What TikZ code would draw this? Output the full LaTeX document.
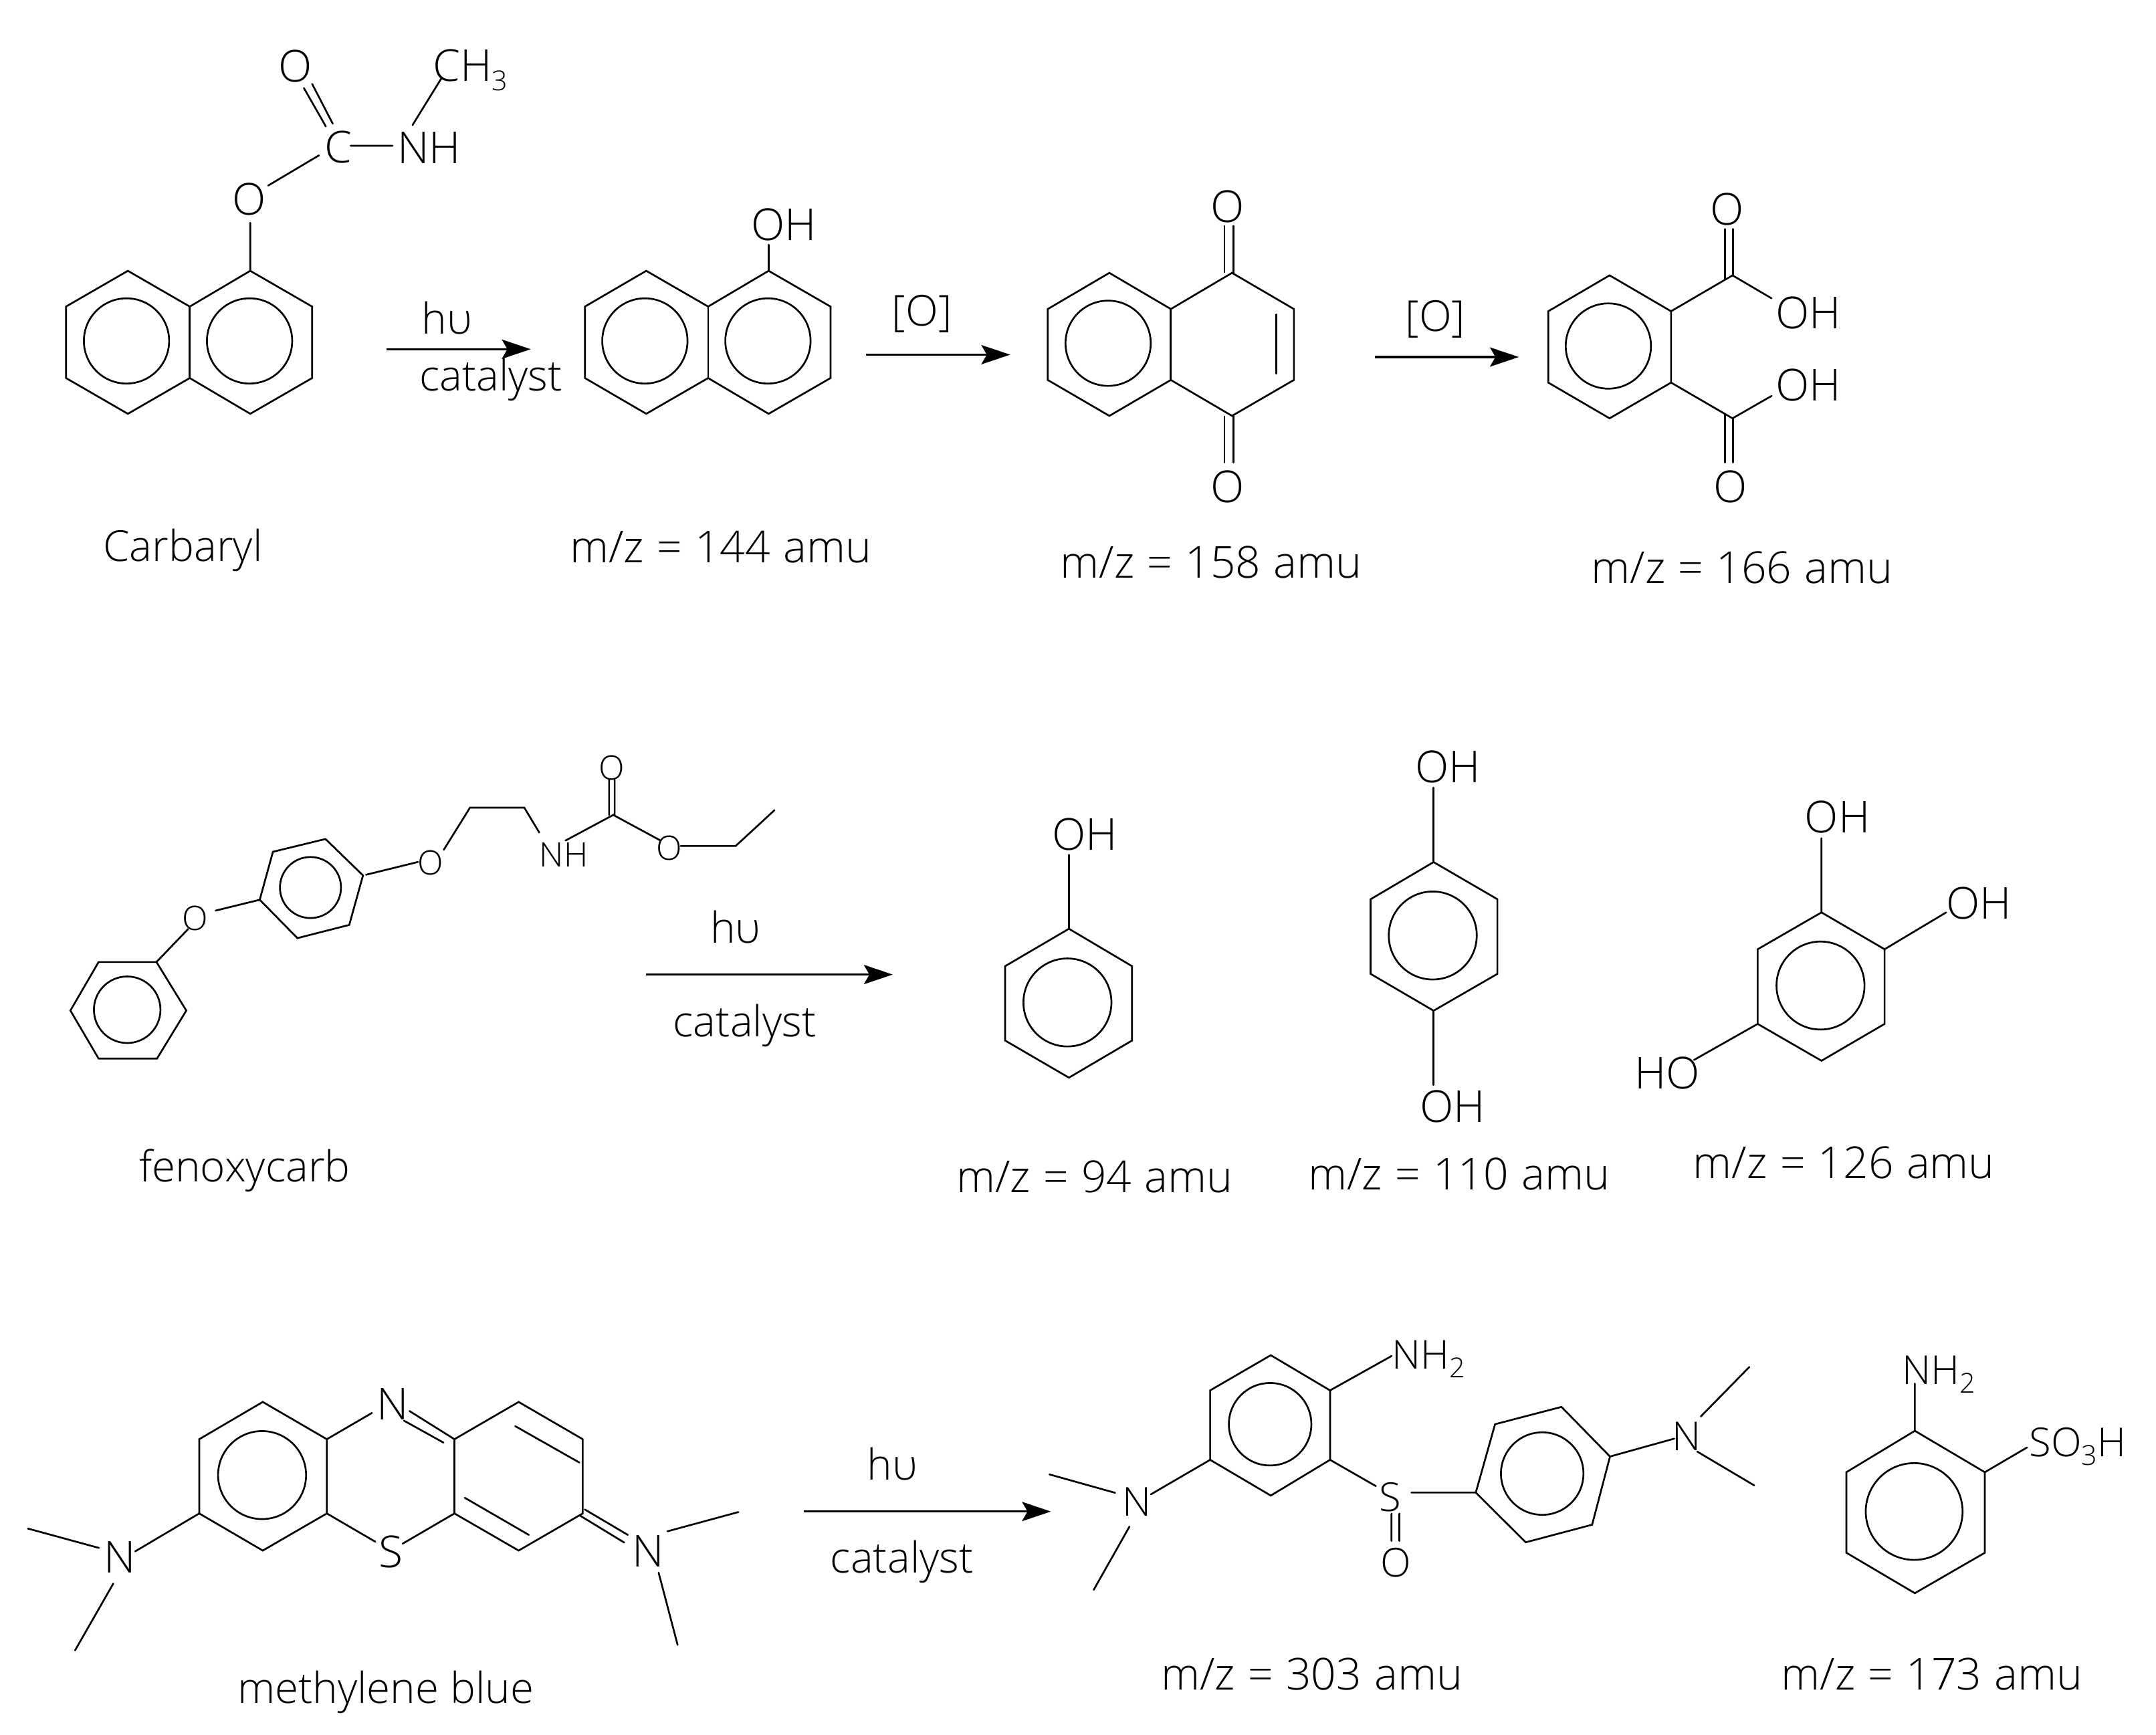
\documentclass[tikz,border=0pt]{standalone}
\usepackage{fontspec}
\setmainfont{Open Sans Light}
\usetikzlibrary{arrows.meta}
\newcommand{\chemsub}[1]{\raisebox{-.22em}{\fontsize{20}{22}\selectfont #1}}
\newcommand{\mzlabel}[1]{m/z\hspace{9.4pt}=\hspace{9.4pt}#1\hspace{9.4pt}amu}
\tikzset{
  bond/.style={line width=1.3pt,line cap=round,line join=miter},
  arrowline/.style={line width=1.5pt,-{Stealth[length=21pt,width=14pt,inset=4pt]}},
  inset/.style={inner sep=0pt,outer sep=0pt,text depth=0pt,anchor=center,align=center},
  atom/.style={inset,text height=22.8pt,font=\fontsize{32}{36}\selectfont},
  atomsm/.style={inset,text height=17.5pt,font=\fontsize{24.5}{28}\selectfont},
  atommd/.style={inset,text height=20.7pt,font=\fontsize{29}{32}\selectfont},
  lbl/.style={inset,text height=22.8pt,font=\fontsize{32}{36}\selectfont},
  word/.style={inset,text height=22.2pt,font=\fontsize{31}{36}\selectfont},
}
\begin{document}
\begin{tikzpicture}[x=1pt,y=-1pt]
\useasboundingbox (0,0) rectangle (1568,1262);
\fill[white] (0,0) rectangle (1568,1262);

% ---------- Row 1: carbaryl
\draw[bond] (48,223)--(93,197)--(138,223)--(182,197)--(227,223)--(227,275)--(182,301)--(138,275)--(93,301)--(48,275)--cycle;
\draw[bond] (138,223)--(138,275);
\draw[bond] (92,248) circle (31) (181.5,248) circle (31);
\draw[bond] (182,197)--(182,162) (195,135)--(232,113) (221,64)--(237,92) (227,61)--(242,90) (255,106)--(285.5,106) (300,91)--(321,57);
\node[atom] (cbO) at (181,145) {O};
\node[atom] (cbC) at (246,107) {C};
\node[atom] (cbOd) at (215,48) {O};
\node[atom] (cbNH) at (312,107.5) {NH};
\node[atom] (cbCH) at (342,47.5) {CH\chemsub{3}};
\node[word] (cbName) at (133,397) {Carbaryl};
\coordinate (a1s) at (281,254); \coordinate (a1e) at (386,254);
\draw[arrowline] (a1s)--(a1e);
\node[word] (a1t) at (325,232) {hυ};
\node[word] (a1b) at (357,273) {catalyst};

% naphthol
\draw[bond] (425.4,223)--(470,197)--(515,223)--(559,197)--(604,223)--(604,275)--(559,301)--(515,275)--(470,301)--(425.4,275)--cycle;
\draw[bond] (515,223)--(515,275);
\draw[bond] (469,248) circle (31) (558.5,248) circle (31);
\draw[bond] (559,197)--(559,178);
\node[atom] (npOH) at (570,163.5) {OH};
\node[lbl] (np) at (524,398) {\mzlabel{144}};
\coordinate (a2s) at (630,258); \coordinate (a2e) at (734.7,258);
\draw[arrowline] (a2s)--(a2e);
\node[word] (a2t) at (670.5,226) {[O]};

% naphthoquinone
\draw[bond] (762,224.8)--(806.8,198.5)--(851.5,224.8)--(896,198.5)--(941,224.8)--(941,276.4)--(896,302.5)--(851.5,276.4)--(806.8,302.5)--(762,276.4)--cycle;
\draw[bond] (851.5,224.8)--(851.5,276.4) (928.2,228.7)--(928.2,271.8);
\draw[bond] (805.9,249.7) circle (31);
\draw[bond] (890.5,164.3)--(890.5,198) (897,164.3)--(897,198.5) (890.5,303)--(890.5,336.4) (897,302.5)--(897,336.4);
\node[atom] (nqO1) at (892.9,150.3) {O};
\node[atom] (nqO2) at (892.9,353.9) {O};
\node[lbl] (nq) at (880.8,409) {\mzlabel{158}};
\coordinate (a3s) at (999.9,259.7); \coordinate (a3e) at (1104.6,259.7);
\draw[arrowline] (a3s)--(a3e);
\node[word] (a3t) at (1044,229.9) {[O]};

% phthalic acid
\draw[bond] (1126,226.4)--(1170.6,200.3)--(1215.3,226.4)--(1215.3,278.3)--(1170.6,304.3)--(1126,278.3)--cycle;
\draw[bond] (1169.7,251.7) circle (31);
\draw[bond] (1215.3,226.4)--(1260,200.3)--(1288.4,217);
\draw[bond] (1215.3,278.3)--(1260,304.3)--(1288.4,288);
\draw[bond] (1254.4,166.6)--(1254.4,203) (1260.5,166.6)--(1260.5,200.3) (1254.4,301)--(1254.4,336.4) (1260.5,304.3)--(1260.5,336.4);
\node[atom] (paO1) at (1256,152.2) {O};
\node[atom] (paO2) at (1258.6,353.9) {O};
\node[atom] (paH1) at (1315,227.5) {OH};
\node[atom] (paH2) at (1315,280) {OH};
\node[lbl] (pa) at (1267,413) {\mzlabel{166}};

% ---------- Row 2: fenoxycarb
\draw[bond] (71.7,699.8)--(113.8,699.8)--(135.5,735.1)--(114.2,770)--(71.7,770)--(51.2,735.1)--cycle;
\draw[bond] (92.5,734.5) circle (24.2);
\draw[bond] (113.8,699.8)--(136.8,675.8) (156.8,662.4)--(188.9,654.5);
\draw[bond] (188.9,654.5)--(198.5,619.6)--(236.7,610.3)--(264,636.8)--(254,672.8)--(216.3,682.4)--cycle;
\draw[bond] (225.8,645.6) circle (22.2);
\draw[bond] (266.2,636.3)--(304,627) (322.7,618.2)--(341.8,587.5)--(381.3,587.5)--(392.2,605.6) (411.3,611.4)--(446,592.8)--(480,611.2) (443,592.8)--(443,567.2) (447,592.8)--(447,567.2) (495,615.4)--(535,615.4)--(563.3,589.3);
\node[atomsm] (fO1) at (142,668) {O};
\node[atomsm] (fO2) at (313,627.7) {O};
\node[atomsm] (fNH) at (410,621.9) {NH};
\node[atomsm] (fO3) at (444.7,558.4) {O};
\node[atomsm] (fO4) at (486.8,617) {O};
\node[word] (fName) at (178,848.4) {fenoxycarb};
\coordinate (a4s) at (470,708.9); \coordinate (a4e) at (649.3,708.9);
\draw[arrowline] (a4s)--(a4e);
\node[word] (a4t) at (535,675) {hυ};
\node[word] (a4b) at (541.6,743) {catalyst};

% phenol
\draw[bond] (777.4,675.6)--(823.3,702.8)--(823.3,756.9)--(777.4,783.9)--(731,756.9)--(731,702.8)--cycle;
\draw[bond] (776.3,729.2) circle (32);
\draw[bond] (777.4,675.6)--(777.4,621.8);
\node[atom] (phOH) at (789,606.8) {OH};
\node[lbl] (ph) at (796,856) {\mzlabel{94}};

% hydroquinone
\draw[bond] (1042.6,627.1)--(1089,654.1)--(1089,708.4)--(1042.6,735.2)--(996.8,708.4)--(996.8,654.1)--cycle;
\draw[bond] (1042,680.5) circle (32);
\draw[bond] (1042.6,627.1)--(1042.6,572.9) (1042.6,735.2)--(1042.6,789.2);
\node[atom] (hqO1) at (1053,558) {OH};
\node[atom] (hqO2) at (1056.3,804.9) {OH};
\node[lbl] (hq) at (1061,854) {\mzlabel{110}};

% hydroxyquinol
\draw[bond] (1324.7,663.7)--(1370.6,690.5)--(1370.6,744.8)--(1324.7,771.6)--(1278.3,744.8)--(1278.3,690.5)--cycle;
\draw[bond] (1324,716.9) circle (32);
\draw[bond] (1324.7,663.7)--(1324.7,609.7) (1370.6,690.5)--(1415.4,663.7) (1278.3,744.8)--(1232,771);
\node[atom] (hxO1) at (1336.3,594.5) {OH};
\node[atom] (hxO2) at (1439.2,657) {OH};
\node[atom] (hxO3) at (1212.4,780.5) {HO};
\node[lbl] (hx) at (1341,846) {\mzlabel{126}};

% ---------- Row 3: methylene blue
\draw[bond] (191.1,1019.8)--(237.7,1046.9)--(237.7,1100.9)--(191.1,1127.9)--(144.9,1100.9)--(144.9,1046.9)--cycle;
\draw[bond] (190.6,1073) circle (32);
\draw[bond] (330.5,1046.9)--(377.2,1019.8)--(423.8,1046.9)--(423.8,1100.9)--(377.2,1127.9)--(330.5,1100.9)--cycle;
\draw[bond] (374.7,1037.4)--(421.4,1063.9) (338,1089.5)--(384.6,1116.5);
\draw[bond] (237.7,1046.9)--(270.5,1027.8) (293.8,1033.4)--(322.6,1049.4) (297.8,1026.4)--(330.5,1046.9);
\draw[bond] (237.7,1100.9)--(273,1121.5) (330.5,1100.9)--(292.8,1122.9);
\draw[bond] (144.9,1100.9)--(98.3,1128.5) (72,1126)--(20.3,1111.9) (82.4,1151.9)--(54.6,1200.5);
\draw[bond] (425.3,1098)--(456.6,1116.5) (421.9,1102.5)--(454,1122.1) (485.4,1113.9)--(537,1099.9) (479,1144)--(492.8,1196.5);
\node[atom] (mbN1) at (285.4,1021.4) {N};
\node[atom] (mbS) at (284.4,1128.9) {S};
\node[atom] (mbN2) at (87.3,1132.5) {N};
\node[atom] (mbN3) at (471.5,1128.5) {N};
\node[word] (mbName) at (280.4,1228) {methylene blue};
\coordinate (a5s) at (584.6,1099.5); \coordinate (a5e) at (764.3,1099.5);
\draw[arrowline] (a5s)--(a5e);
\node[word] (a5t) at (649,1065.5) {hυ};
\node[word] (a5b) at (656,1133) {catalyst};

% sulfoxide product
\draw[bond] (924.2,985.8)--(967.3,1011.4)--(967.3,1061.9)--(924.2,1087.9)--(880.1,1061.9)--(880.1,1011.4)--cycle;
\draw[bond] (923.7,1036) circle (30);
\draw[bond] (967.3,1011.4)--(1012,986.4) (880.1,1061.9)--(837,1087) (811,1085.9)--(763.2,1072.5) (821.4,1110.5)--(795.4,1156.5);
\draw[bond] (967.3,1061.9)--(1000.6,1081) (1012,1101)--(1012,1120.9) (1017.7,1101)--(1017.7,1120.9) (1026.5,1085.7)--(1073.3,1085.7);
\draw[bond] (1073.3,1085.7)--(1087.3,1036)--(1135.6,1023.4)--(1170.9,1059.5)--(1157.9,1109.1)--(1109.6,1121.9)--cycle;
\draw[bond] (1121.6,1071.9) circle (30);
\draw[bond] (1170.9,1059.5)--(1217.6,1046.5) (1236.9,1030.4)--(1272.2,994.4) (1234.3,1055.9)--(1275.8,1080.5);
\node[atommd] (spNH) at (1039,985.4) {NH\chemsub{2}};
\node[atommd] (spN1) at (826.6,1092.5) {N};
\node[atommd] (spS) at (1011,1089) {S};
\node[atommd] (spO) at (1015,1136.5) {O};
\node[atommd] (spN2) at (1226.5,1045) {N};
\node[lbl] (sp) at (954,1218) {\mzlabel{303}};

% orthanilic acid
\draw[bond] (1392.6,1040.8)--(1443.5,1070.9)--(1443.5,1129.5)--(1392.6,1158.9)--(1342.8,1129.5)--(1342.8,1070.9)--cycle;
\draw[bond] (1392.1,1099.5) circle (35.2);
\draw[bond] (1392.6,1040.8)--(1392.6,1006.4) (1443.5,1070.9)--(1474.2,1052.9);
\node[atommd] (oaNH) at (1410,996.4) {NH\chemsub{2}};
\node[atommd] (oaSO) at (1511,1049) {SO\chemsub{3}H};
\node[lbl] (oa) at (1405,1218) {\mzlabel{173}};
\end{tikzpicture}
\end{document}
